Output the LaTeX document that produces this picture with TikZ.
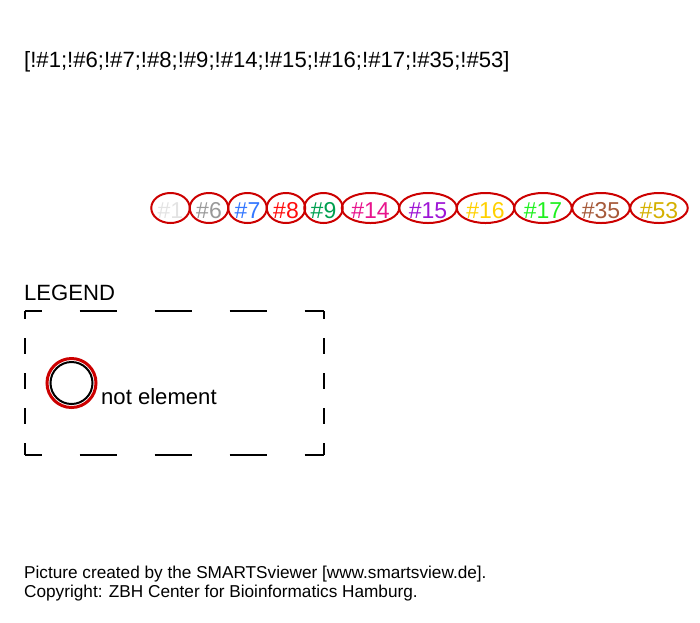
\documentclass[tikz,border=0pt]{standalone}
\usepackage{fontspec}
\setmainfont{Liberation Sans}
\usepackage{xcolor}
\usetikzlibrary{shapes.geometric}

\definecolor{atomred}{HTML}{CC0000}
\definecolor{cOne}{HTML}{E3E3E3}
\definecolor{cSix}{HTML}{999999}
\definecolor{cSeven}{HTML}{3377FF}
\definecolor{cEight}{HTML}{FF0D0D}
\definecolor{cNine}{HTML}{00A050}
\definecolor{cFourteen}{HTML}{E8148C}
\definecolor{cFifteen}{HTML}{9E15D6}
\definecolor{cSixteen}{HTML}{FFD000}
\definecolor{cSeventeen}{HTML}{1FF01F}
\definecolor{cThirtyfive}{HTML}{A65A3A}
\definecolor{cFiftythree}{HTML}{D4B000}

\begin{document}
\begin{tikzpicture}[x=1pt,y=-1pt]
        \tikzstyle{every node}+=[inner sep=0pt]
        \tikzstyle{bigtxt}=[font=\fontsize{22.1}{26}\selectfont]
        \tikzstyle{smalltxt}=[font=\fontsize{17.2}{20}\selectfont]
        \tikzstyle{atom}=[ellipse,draw=atomred,line width=2pt,font=\fontsize{23}{26}\selectfont,
                text height=21pt,text depth=0pt,minimum height=30pt,minimum width=38.5pt]
        \tikzstyle{wideatom}=[atom,minimum width=57.5pt]
        \tikzstyle{hdash}=[line width=2.5pt,dash pattern=on 37.5pt off 37.5pt,dash phase=20.5pt]
        \tikzstyle{vdash}=[line width=2.5pt,dash pattern=on 16pt off 19pt,dash phase=8pt]
        \useasboundingbox (0,0) rectangle (700,622);
        % query
        \node[bigtxt,anchor=base west] (query) at (24,67) {[!\#1;!\#6;!\#7;!\#8;!\#9;!\#14;!\#15;!\#16;!\#17;!\#35;!\#53]};
        % atom list
        \node[atom,text=cOne] (a1) at (170.5,208) {\#1};
        \node[atom,text=cSix] (a6) at (209,208) {\#6};
        \node[atom,text=cSeven] (a7) at (247.5,208) {\#7};
        \node[atom,text=cEight] (a8) at (286,208) {\#8};
        \node[atom,text=cNine] (a9) at (323.5,208) {\#9};
        \node[wideatom,text=cFourteen] (a14) at (370.5,208) {\#14};
        \node[wideatom,text=cFifteen] (a15) at (428,208) {\#15};
        \node[wideatom,text=cSixteen] (a16) at (485.5,208) {\#16};
        \node[wideatom,text=cSeventeen] (a17) at (543,208) {\#17};
        \node[wideatom,text=cThirtyfive] (a35) at (601,208) {\#35};
        \node[wideatom,text=cFiftythree] (a53) at (659,208) {\#53};
        % legend
        \node[bigtxt,anchor=base west] (legend) at (24,300) {LEGEND};
        \draw[hdash] (25,311) -- (324,311);
        \draw[hdash] (25,455) -- (324,455);
        \draw[vdash] (25,311) -- (25,455);
        \draw[vdash] (324,311) -- (324,455);
        \draw[atomred,line width=3pt] (71.5,383) circle (24.5);
        \draw[black,line width=2pt] (71.5,383) circle (21);
        \node[bigtxt,anchor=base west] (notel) at (101,404) {not element};
        % footer
        \node[smalltxt,anchor=base west] (credit) at (24,578) {Picture created by the SMARTSviewer [www.smartsview.de].};
        \node[smalltxt,anchor=base west] (copy) at (24,597) {Copyright: ZBH Center for Bioinformatics Hamburg.};
\end{tikzpicture}
\end{document}
